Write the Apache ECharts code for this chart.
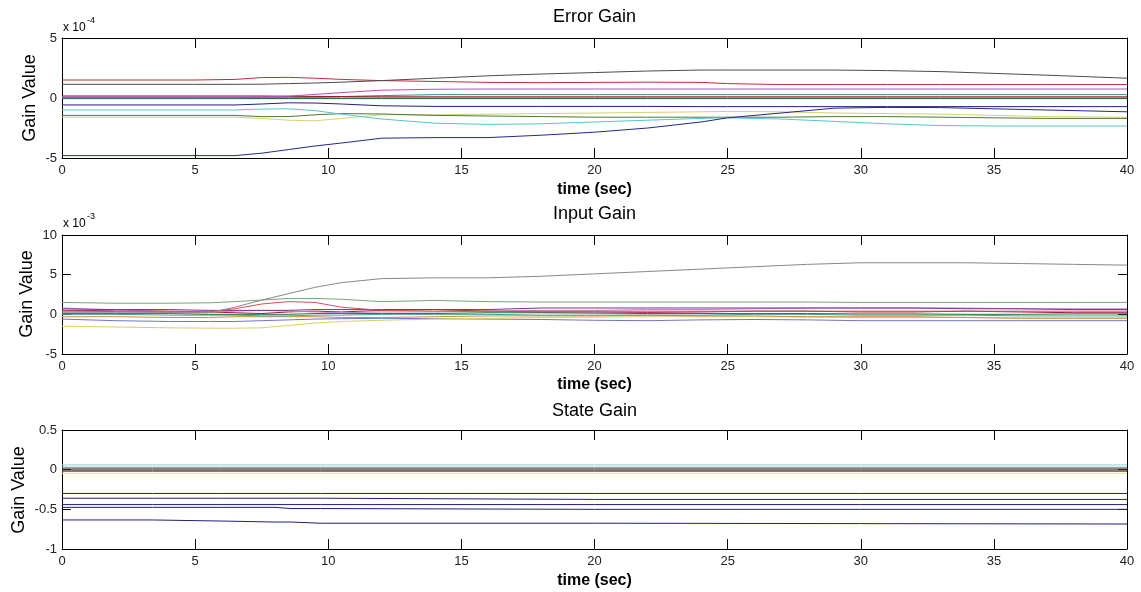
<!DOCTYPE html>
<html><head><meta charset="utf-8">
<script src="https://cdn.jsdelivr.net/npm/echarts@6/dist/echarts.min.js"></script>
<style>html,body{margin:0;padding:0;background:#fff}#c{width:1141px;height:592px}</style>
</head><body><div id="c"></div>
<script>
// ---------- Error Gain (x 1e-4) ----------
const errTime   = [0,5,6.5,7.5,8.5,9.5,10.5,12,14,16,18,20,22,24,25,27,29,31,33,35,37,40];
const errGray   = [1.14,1.14,1.14,1.15,1.2,1.25,1.32,1.45,1.65,1.85,2.0,2.12,2.25,2.33,2.33,2.33,2.33,2.28,2.2,2.05,1.9,1.65];
const errRed    = [1.5,1.5,1.55,1.7,1.72,1.65,1.55,1.45,1.38,1.3,1.28,1.3,1.32,1.3,1.2,1.12,1.12,1.12,1.12,1.12,1.12,1.12];
const errMag    = [0.1,0.1,0.1,0.1,0.15,0.3,0.45,0.65,0.73,0.75,0.75,0.75,0.75,0.75,0.75,0.75,0.75,0.75,0.75,0.75,0.75,0.75];
const errDkRed  = [0.17,0.17,0.17,0.17,0.15,0.13,0.12,0.1,0.1,0.1,0.1,0.1,0.1,0.1,0.1,0.1,0.1,0.1,0.1,0.1,0.1,0.1];
const errTeal   = [0.0,0.0,0.0,0.08,0.1,0.1,0.12,0.2,0.28,0.28,0.28,0.28,0.28,0.28,0.28,0.28,0.28,0.28,0.28,0.28,0.28,0.28];
const errSlate  = [-0.05,-0.05,-0.05,-0.05,-0.05,-0.05,-0.05,-0.05,-0.05,-0.05,-0.05,-0.05,-0.05,-0.05,-0.05,-0.05,-0.05,-0.05,-0.05,-0.05,-0.05,-0.05];
const errGreen0 = [0.02,0.02,0.02,0.02,0.02,0.02,0.0,0.0,0.0,0.0,0.0,0.0,0.0,0.0,0.0,0.0,0.0,0.0,0.0,0.0,0.0,0.0];
const errNavy1  = [-0.58,-0.58,-0.58,-0.5,-0.4,-0.42,-0.5,-0.65,-0.7,-0.7,-0.7,-0.7,-0.7,-0.72,-0.72,-0.72,-0.72,-0.72,-0.72,-0.72,-0.72,-0.72];
const errNavy2  = [-4.8,-4.8,-4.8,-4.6,-4.3,-4.0,-3.75,-3.35,-3.3,-3.3,-3.1,-2.85,-2.5,-2.0,-1.65,-1.25,-0.85,-0.78,-0.8,-0.9,-1.0,-1.15];
const errCyan   = [-1.0,-1.0,-1.0,-0.92,-0.9,-1.05,-1.35,-1.75,-2.1,-2.2,-2.15,-2.0,-1.85,-1.7,-1.65,-1.75,-1.95,-2.15,-2.3,-2.33,-2.33,-2.33];
const errOlive  = [-1.45,-1.45,-1.45,-1.55,-1.55,-1.4,-1.3,-1.33,-1.45,-1.5,-1.55,-1.6,-1.6,-1.6,-1.6,-1.6,-1.55,-1.55,-1.6,-1.65,-1.7,-1.7];
const errYellow = [-1.6,-1.6,-1.6,-1.7,-1.85,-1.9,-1.7,-1.4,-1.4,-1.35,-1.3,-1.25,-1.2,-1.15,-1.12,-1.15,-1.25,-1.3,-1.35,-1.45,-1.55,-1.6];

// ---------- Input Gain (x 1e-3) ----------
const inTime    = [0,2,4,5.5,6.5,7.5,8.5,9.5,10.5,12,14,16,18,20,22,24,26,28,30,32,34,36,38,40];
const inGray    = [0.2,0.2,0.2,0.2,0.9,1.8,2.6,3.4,4.0,4.5,4.6,4.6,4.8,5.1,5.4,5.7,6.0,6.3,6.5,6.5,6.5,6.4,6.3,6.2];
const inGreen   = [1.5,1.4,1.4,1.45,1.6,1.8,2.0,2.0,1.9,1.6,1.75,1.6,1.55,1.55,1.55,1.55,1.55,1.55,1.5,1.5,1.5,1.5,1.5,1.5];
const inRed     = [0.4,0.35,0.3,0.3,0.7,1.3,1.6,1.5,0.9,0.5,0.4,0.4,0.4,0.4,0.4,0.4,0.4,0.4,0.4,0.4,0.4,0.4,0.4,0.4];
const inPurple  = [0.7,0.6,0.6,0.5,0.5,0.5,0.5,0.6,0.6,0.6,0.6,0.6,0.8,0.8,0.8,0.8,0.8,0.8,0.8,0.8,0.7,0.7,0.6,0.6];
const inMauve   = [0.8,0.5,0.3,0.3,0.4,0.5,0.4,0.3,0.2,0.3,0.3,0.4,0.5,0.5,0.6,0.6,0.7,0.8,0.8,0.8,0.8,0.7,0.7,0.7];
const inDkRed   = [0.5,0.5,0.4,0.3,0.2,0.1,0.3,0.4,0.3,0.5,0.6,0.4,0.3,0.3,0.25,0.3,0.4,0.4,0.3,0.3,0.4,0.3,0.2,0.2];
const inDkGreen = [0.1,0.1,0.1,0.0,0.0,0.0,0.0,0.1,0.1,0.1,0.1,0.2,0.2,0.15,0.1,0.1,0.1,0.1,0.05,0.05,0.0,0.0,0.05,0.05];
const inTeal    = [0.0,0.0,-0.1,-0.1,-0.1,-0.2,-0.2,-0.1,-0.1,0.0,0.0,0.0,-0.1,-0.1,-0.1,-0.1,0.0,0.0,-0.1,-0.1,-0.1,-0.2,-0.2,-0.2];
const inOrange  = [-0.3,-0.3,-0.4,-0.4,-0.3,-0.3,-0.3,-0.3,-0.4,-0.4,-0.3,-0.2,-0.2,-0.2,-0.1,-0.2,-0.2,-0.3,-0.3,-0.3,-0.4,-0.5,-0.5,-0.5];
const inYellow  = [-1.5,-1.6,-1.7,-1.75,-1.75,-1.7,-1.4,-1.1,-0.9,-0.75,-0.6,-0.5,-0.4,-0.35,-0.3,-0.3,-0.3,-0.35,-0.4,-0.4,-0.4,-0.45,-0.45,-0.45];
const inBlue    = [-0.6,-0.8,-0.9,-0.9,-0.9,-0.8,-0.7,-0.6,-0.55,-0.5,-0.55,-0.6,-0.65,-0.75,-0.8,-0.7,-0.65,-0.7,-0.8,-0.8,-0.8,-0.8,-0.8,-0.8];

// ---------- State Gain ----------
const stTime    = [0,3.4,5.9,8.0,8.6,9.7,20,30,40];
const stCyan    = [0.06,0.06,0.06,0.06,0.06,0.06,0.06,0.06,0.06];
const stGray    = [0.03,0.03,0.03,0.03,0.03,0.03,0.03,0.03,0.03];
const stBrown   = [0.01,0.01,0.01,0.01,0.01,0.01,0.01,0.01,0.01];
const stBlack   = [-0.005,-0.005,-0.005,-0.005,-0.005,-0.005,-0.005,-0.005,-0.005];
const stOlive   = [-0.02,-0.02,-0.02,-0.02,-0.02,-0.02,-0.02,-0.02,-0.02];
const stYellow  = [-0.045,-0.045,-0.045,-0.045,-0.045,-0.045,-0.045,-0.045,-0.045];
const stNavy1   = [-0.30,-0.30,-0.30,-0.30,-0.30,-0.30,-0.30,-0.30,-0.30];
const stNavy2   = [-0.36,-0.36,-0.36,-0.36,-0.36,-0.375,-0.375,-0.375,-0.375];
const stNavy3   = [-0.44,-0.44,-0.44,-0.44,-0.44,-0.44,-0.44,-0.44,-0.44];
const stNavy4   = [-0.475,-0.475,-0.475,-0.49,-0.49,-0.50,-0.50,-0.50,-0.50];
const stNavy5   = [-0.634,-0.647,-0.66,-0.66,-0.675,-0.675,-0.68,-0.685,-0.685];

const FONT = '"Liberation Sans", Arial, sans-serif';
function pairs(t, v){ return t.map((x,i)=>[x, v[i]]); }

const grids = [
  {left:62, right:14, top:38, height:120},
  {left:62, right:14, top:235, height:119},
  {left:62, right:14, top:430, height:119}
];
const yRanges = [[-5,5,5],[-5,10,5],[-1,0.5,0.5]];

const xAxes = [], yAxes = [];
grids.forEach((g,i)=>{
  xAxes.push({gridIndex:i, type:'value', min:0, max:40, interval:5, position:'bottom',
    axisLine:{show:true, onZero:false, lineStyle:{color:'#000',width:1}},
    axisTick:{show:true, inside:true, length:10, lineStyle:{color:'#000'}},
    axisLabel:{show:true, fontSize:13, color:'#222', fontFamily:FONT, margin:6},
    splitLine:{show:false}});
  xAxes.push({gridIndex:i, type:'value', min:0, max:40, interval:5, position:'top',
    axisLine:{show:true, onZero:false, lineStyle:{color:'#000',width:1}},
    axisTick:{show:true, inside:true, length:10, lineStyle:{color:'#000'}},
    axisLabel:{show:false}, splitLine:{show:false}});
  const r = yRanges[i];
  yAxes.push({gridIndex:i, type:'value', min:r[0], max:r[1], interval:r[2], position:'left',
    axisLine:{show:true, onZero:false, lineStyle:{color:'#000',width:1}},
    axisTick:{show:true, inside:true, length:9, lineStyle:{color:'#000'}},
    axisLabel:{show:true, fontSize:13, color:'#222', fontFamily:FONT, margin:5},
    splitLine:{show:false}});
  yAxes.push({gridIndex:i, type:'value', min:r[0], max:r[1], interval:r[2], position:'right',
    axisLine:{show:true, onZero:false, lineStyle:{color:'#000',width:1}},
    axisTick:{show:true, inside:true, length:9, lineStyle:{color:'#000'}},
    axisLabel:{show:false}, splitLine:{show:false}});
});

const series = [];
function add(g, t, v, color, step){
  const s = {type:'line', xAxisIndex:2*g, yAxisIndex:2*g, data:pairs(t,v), showSymbol:false,
    symbol:'none', lineStyle:{color:color, width:1}, itemStyle:{color:color}, silent:true, animation:false};
  if(step) s.step = 'end';
  series.push(s);
}
add(0, errTime, errYellow, '#d4d46c');
add(0, errTime, errOlive, '#4a7a34');
add(0, errTime, errCyan, '#55c8c8');
add(0, errTime, errNavy2, '#26268c');
add(0, errTime, errNavy1, '#202080');
add(0, errTime, errSlate, '#224c4c');
add(0, errTime, errGreen0, '#2a882a');
add(0, errTime, errTeal, '#3a8c8c');
add(0, errTime, errDkRed, '#9c1830');
add(0, errTime, errMag, '#c048c0');
add(0, errTime, errRed, '#c02a3a');
add(0, errTime, errGray, '#4a4a4a');

add(1, inTime, inBlue, '#7474c0');
add(1, inTime, inYellow, '#d8d064');
add(1, inTime, inOrange, '#d08c3c');
add(1, inTime, inTeal, '#44a0a0');
add(1, inTime, inDkGreen, '#207a40');
add(1, inTime, inDkRed, '#a01840');
add(1, inTime, inMauve, '#b888c0');
add(1, inTime, inPurple, '#7a2c9c');
add(1, inTime, inRed, '#d05060');
add(1, inTime, inGreen, '#74a874');
add(1, inTime, inGray, '#888888');

add(2, stTime, stNavy5, '#20207a', true);
add(2, stTime, stNavy4, '#20207a', true);
add(2, stTime, stNavy3, '#20207a', true);
add(2, stTime, stNavy2, '#20207a', true);
add(2, stTime, stNavy1, '#20207a', true);
add(2, stTime, stYellow, '#e0e070', true);
add(2, stTime, stOlive, '#5a5040', true);
add(2, stTime, stBlack, '#303030', true);
add(2, stTime, stBrown, '#4a3a30', true);
add(2, stTime, stGray, '#888898', true);
add(2, stTime, stCyan, '#80d8d8', true);

function txt(x, y, text, size, opts){
  opts = opts || {};
  return {type:'text', x:x, y:y, rotation:opts.rot||0, silent:true,
    style:{text:text, font:(opts.bold?'bold ':'')+size+'px '+FONT, fill:'#000',
      textAlign:opts.align||'center', textVerticalAlign:opts.valign||'middle',
      align:opts.align||'center', verticalAlign:opts.valign||'middle'}};
}
const cx = 594.5;
const graphics = [
  txt(cx, 17, 'Error Gain', 18),
  txt(cx, 190, 'time (sec)', 16, {bold:true}),
  txt(cx, 214, 'Input Gain', 18),
  txt(cx, 385, 'time (sec)', 16, {bold:true}),
  txt(cx, 411, 'State Gain', 18),
  txt(cx, 581, 'time (sec)', 16, {bold:true}),
  txt(30, 98, 'Gain Value', 18, {rot:Math.PI/2}),
  txt(27, 294, 'Gain Value', 18, {rot:Math.PI/2}),
  txt(19, 490, 'Gain Value', 18, {rot:Math.PI/2}),
  txt(63, 28, 'x 10', 12, {align:'left'}),
  txt(87, 21, '-4', 9, {align:'left'}),
  txt(63, 224, 'x 10', 12, {align:'left'}),
  txt(87, 217, '-3', 9, {align:'left'})
];

const chart = echarts.init(document.getElementById('c'), null, {renderer:'canvas'});
chart.setOption({
  animation:false,
  backgroundColor:'#fff',
  grid: grids,
  xAxis: xAxes,
  yAxis: yAxes,
  series: series,
  graphic: graphics
});
</script></body></html>
